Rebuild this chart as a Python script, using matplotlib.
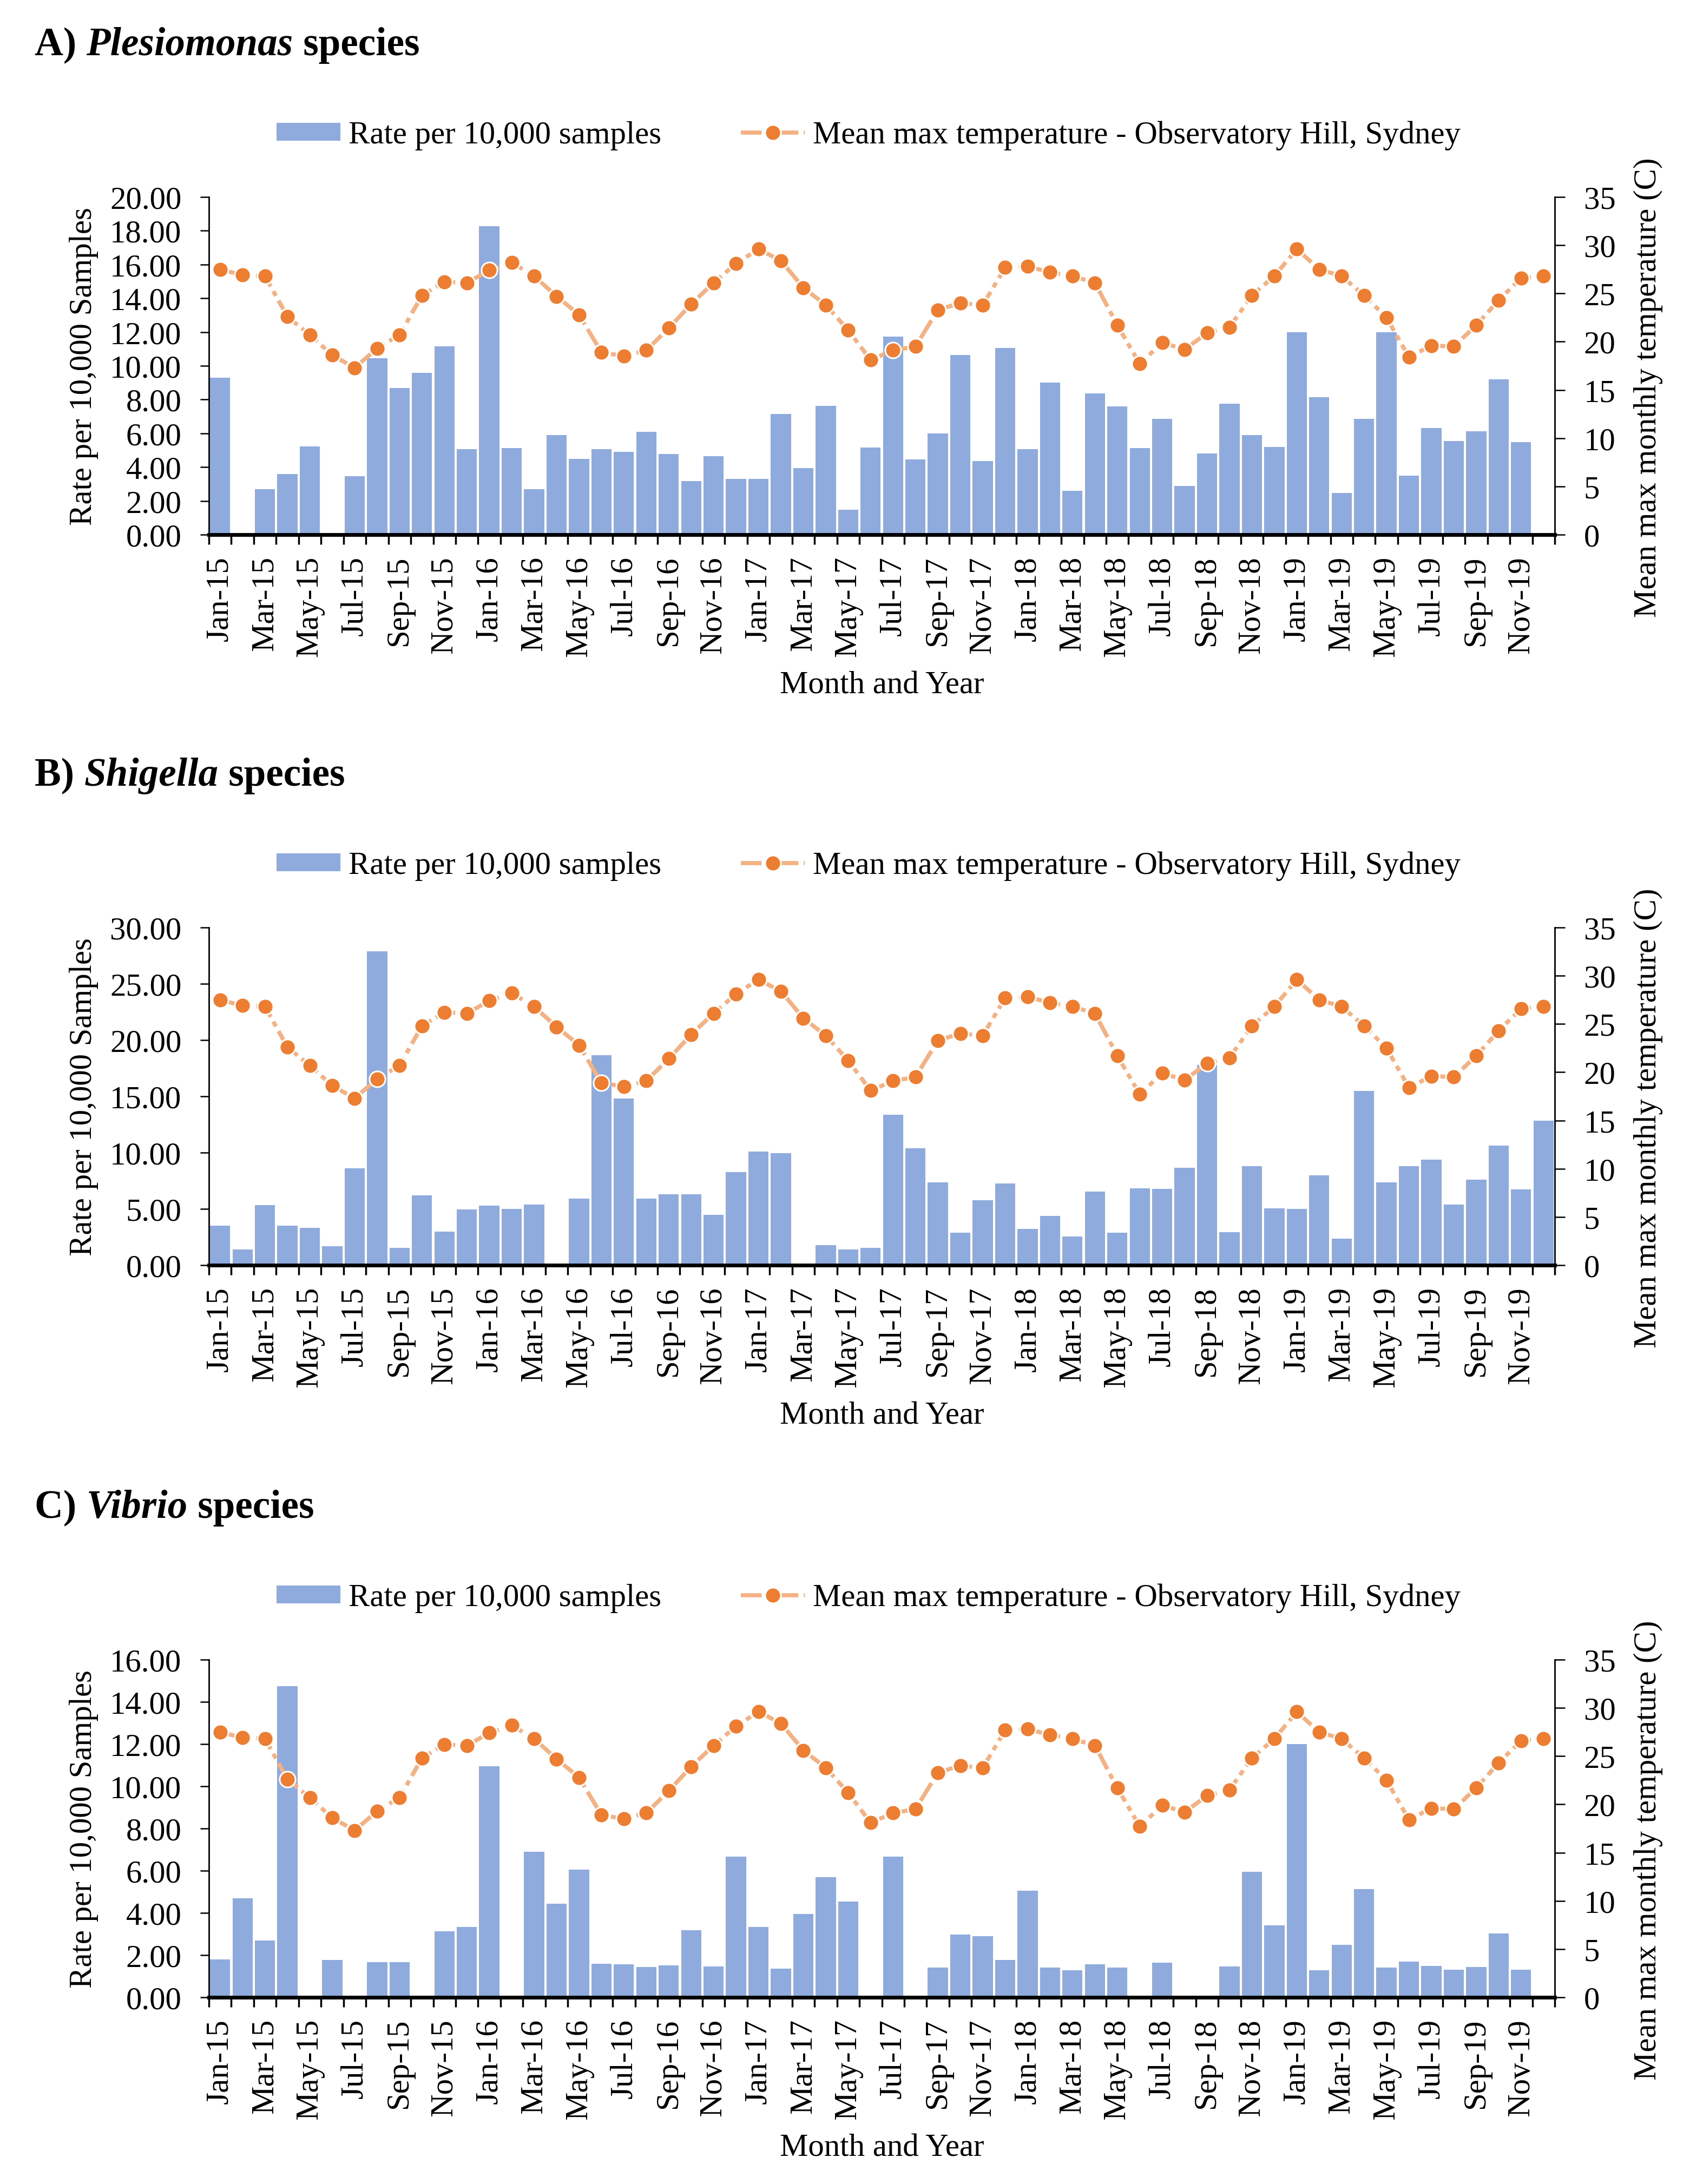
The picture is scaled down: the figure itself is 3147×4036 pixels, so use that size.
import matplotlib
matplotlib.use("Agg")
import matplotlib.pyplot as plt
import numpy as np

plt.rcParams['font.family'] = ['Liberation Serif', 'DejaVu Serif']

# --- data -------------------------------------------------------------
MESI = ["Jan", "Feb", "Mar", "Apr", "May", "Jun",
        "Jul", "Aug", "Sep", "Oct", "Nov", "Dec"]
ANNI = ["15", "16", "17", "18", "19"]
etichette = [m + "-" + a for a in ANNI for m in MESI]

# mean max temperature, Observatory Hill (C)
temperatura = [27.5, 26.9, 26.8, 22.6, 20.7, 18.6, 17.3, 19.3, 20.7, 24.8, 26.2, 26.1,
               27.4, 28.2, 26.8, 24.7, 22.8, 18.9, 18.5, 19.1, 21.4, 23.9, 26.1, 28.1,
               29.6, 28.4, 25.6, 23.8, 21.2, 18.1, 19.1, 19.5, 23.3, 24.0, 23.8, 27.7,
               27.8, 27.2, 26.8, 26.1, 21.7, 17.7, 19.9, 19.2, 20.9, 21.5, 24.8, 26.8,
               29.6, 27.5, 26.8, 24.8, 22.5, 18.4, 19.6, 19.5, 21.7, 24.3, 26.6, 26.8]

plesiomonas = [9.30, 0, 2.68, 3.60, 5.21, 0, 3.45, 10.45, 8.70, 9.58, 11.14, 5.06,
               18.27, 5.13, 2.68, 5.90, 4.49, 5.06, 4.90, 6.10, 4.78, 3.17, 4.64, 3.30,
               3.30, 7.16, 3.94, 7.62, 1.46, 5.16, 11.72, 4.44, 5.98, 10.65, 4.37, 11.07,
               5.06, 9.01, 2.61, 8.35, 7.59, 5.13, 6.85, 2.87, 4.80, 7.77, 5.90, 5.18,
               12.00, 8.15, 2.48, 6.85, 12.00, 3.48, 6.31, 5.56, 6.13, 9.20, 5.47, 0]

shigella = [3.52, 1.38, 5.36, 3.49, 3.33, 1.66, 8.62, 27.90, 1.56, 6.21, 2.99, 4.94,
            5.29, 5.01, 5.40, 0, 5.91, 18.67, 14.83, 5.93, 6.28, 6.32, 4.48, 8.28,
            10.11, 9.95, 0, 1.77, 1.38, 1.54, 13.38, 10.39, 7.36, 2.87, 5.79, 7.24,
            3.22, 4.37, 2.53, 6.55, 2.87, 6.83, 6.78, 8.67, 17.80, 2.92, 8.80, 5.06,
            5.01, 8.00, 2.37, 15.47, 7.36, 8.78, 9.38, 5.40, 7.59, 10.64, 6.74, 12.83]

vibrio = [1.80, 4.69, 2.70, 14.75, 0, 1.77, 0, 1.66, 1.66, 0, 3.13, 3.34,
          10.94, 0, 6.90, 4.44, 6.04, 1.60, 1.56, 1.44, 1.52, 3.19, 1.47, 6.67,
          3.34, 1.37, 3.95, 5.69, 4.54, 0, 6.67, 0, 1.41, 2.97, 2.91, 1.78,
          5.06, 1.41, 1.28, 1.56, 1.41, 0, 1.64, 0, 0, 1.47, 5.95, 3.42,
          12.01, 1.28, 2.50, 5.12, 1.41, 1.68, 1.50, 1.31, 1.44, 3.03, 1.31, 0]

pannelli = [("A) ", "Plesiomonas", plesiomonas, 20, 2),
            ("B) ", "Shigella", shigella, 30, 5),
            ("C) ", "Vibrio", vibrio, 16, 2)]

# --- layout (pixels of the 3147x4037 image) ----------------------------
W, H = 3147, 4037
SX0, SX1 = 386, 2873
TOPS = [365, 1715, 3068]
PH = 624
FS = 42.4
BLU = "#8FAADC"
ARANCIO = "#ED7D31"
ARANCIO_CH = "#F4B183"

fig = plt.figure(figsize=(W / 100, H / 100), dpi=100)
renderer = fig.canvas.get_renderer()
x = np.arange(len(etichette))


def fy(p):
    return 1 - p / H


for (lettera, genere, valori, ymax, passo), top in zip(pannelli, TOPS):
    ax = fig.add_axes([SX0 / W, fy(top + PH), (SX1 - SX0) / W, PH / H])
    barre = ax.bar(x, valori, width=0.9, color=BLU, zorder=2)
    ax.set_xlim(-0.5, len(x) - 0.5)
    ax.set_ylim(0, ymax)
    ax.set_yticks(np.arange(0, ymax + 0.01, passo))
    ax.set_yticklabels(["%.2f" % v for v in np.arange(0, ymax + 0.01, passo)])
    ax.tick_params(axis='y', labelsize=FS, length=11.5, width=1.8, pad=25)

    # labels every second month, tick marks on every category boundary
    ax.set_xticks(x[::2])
    ax.set_xticklabels(etichette[::2], rotation=90, va='top', ha='center')
    ax.tick_params(axis='x', which='major', length=0, pad=28, labelsize=FS)
    ax.set_xticks(np.arange(-0.5, len(x)), minor=True)
    ax.tick_params(axis='x', which='minor', length=13, width=2.5)

    for s in ['top', 'right']:
        ax.spines[s].set_visible(False)
    ax.spines['left'].set_linewidth(2.0)
    ax.spines['bottom'].set_linewidth(5)
    ax.spines['bottom'].set_zorder(3)

    ax2 = ax.twinx()
    linea, = ax2.plot(x, temperatura, color=ARANCIO_CH, lw=5.5,
                      linestyle=(0, (5, 1.3, 1.3, 1.3)),
                      marker='o', markersize=21, markerfacecolor=ARANCIO,
                      markeredgecolor='white', markeredgewidth=2.2)
    ax2.set_ylim(0, 35)
    ax2.set_yticks(np.arange(0, 36, 5))
    ax2.tick_params(axis='y', labelsize=FS, length=13.7, width=1.8, pad=25)
    for s in ['top', 'left', 'bottom']:
        ax2.spines[s].set_visible(False)
    ax2.spines['right'].set_linewidth(2.0)

    # axis labels
    fig.text(155 / W, fy(top + PH / 2), "Rate per 10,000 Samples",
             rotation=90, ha='center', va='center', fontsize=FS)
    fig.text(3046 / W, fy(top + PH / 2 + 39), "Mean max monthly temperature (C)",
             rotation=90, ha='center', va='center', fontsize=FS)
    fig.text((SX0 + SX1) / 2 / W, fy(top + PH + 279), "Month and Year",
             ha='center', va='center', fontsize=FS)

    # legend
    fig.legend([barre, linea],
               ["Rate per 10,000 samples",
                "Mean max temperature - Observatory Hill, Sydney"],
               loc='center', bbox_to_anchor=(1605 / W, fy(top - 114)),
               ncol=2, frameon=False, fontsize=FS, handlelength=2.0,
               handleheight=0.5, handletextpad=0.25, columnspacing=2.5,
               numpoints=1)

    # panel title with italic genus name
    xt = 64 / W
    yt = fy(top - 281)
    for parte, stile in [(lettera, 'normal'), (genere, 'italic'), (" species", 'normal')]:
        t = fig.text(xt, yt, parte, fontsize=52.7, fontweight='bold',
                     style=stile, ha='left', va='center')
        bb = t.get_window_extent(renderer=renderer)
        xt += bb.width / W

fig.savefig("out.png", dpi=100)
